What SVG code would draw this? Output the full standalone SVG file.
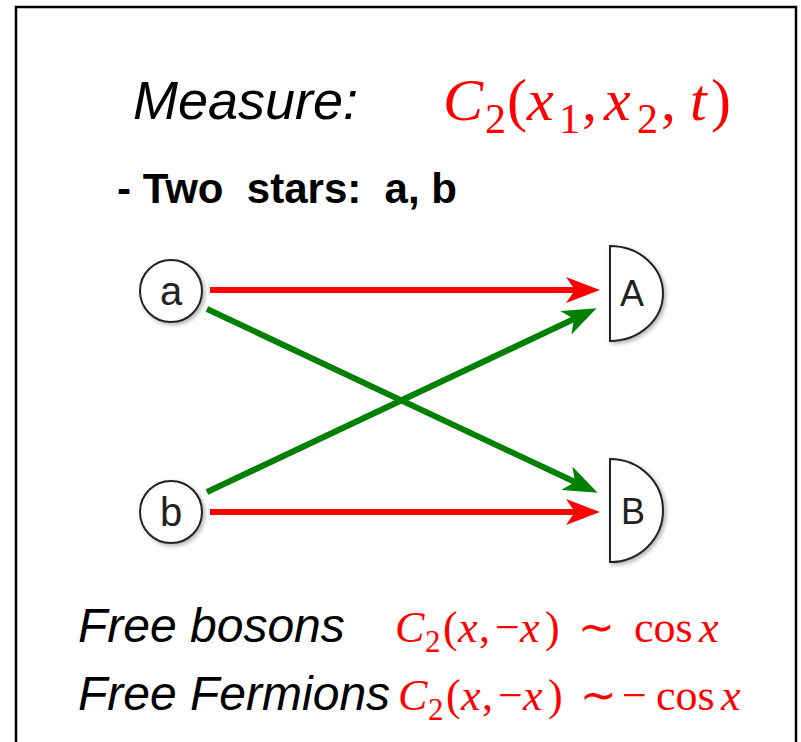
<svg xmlns="http://www.w3.org/2000/svg" width="801" height="742" viewBox="0 0 801 742">
<style>
.lbl{font-family:"Liberation Sans",Arial,sans-serif;fill:#000}
.it{font-style:italic}
.m{font-family:"Liberation Serif","Times New Roman",serif;fill:#ff0000}
.mi{font-style:italic}
.node{fill:#fff;stroke:#222;stroke-width:2}
.nt{font-family:"Liberation Sans",Arial,sans-serif;fill:#222;text-anchor:middle}
.red{stroke:#ff0000;stroke-width:6;fill:none}
.grn{stroke:#008000;stroke-width:6;fill:none}
</style>
<defs>
<filter id="sh" x="-20%" y="-20%" width="150%" height="150%">
<feDropShadow dx="2" dy="2" stdDeviation="2" flood-color="#000" flood-opacity="0.3"/>
</filter>
<marker id="ar" viewBox="0 0 34 26" refX="9" refY="13" markerWidth="34" markerHeight="26" markerUnits="userSpaceOnUse" orient="auto">
<path d="M0,0 L34,13 L0,26 L9,13 z" fill="#ff0000"/>
</marker>
<marker id="ag" viewBox="0 0 34 26" refX="9" refY="13" markerWidth="34" markerHeight="26" markerUnits="userSpaceOnUse" orient="auto">
<path d="M0,0 L34,13 L0,26 L9,13 z" fill="#008000"/>
</marker>
</defs>
<rect x="0" y="0" width="801" height="742" fill="#fff"/>
<path d="M16,760 L16,7 L796,7 L796,760" fill="none" stroke="#000" stroke-width="2.5"/>

<g id="title">
<text class="lbl it" x="133" y="119" font-size="54">Measure:</text>
<text class="m" font-size="60"><tspan class="mi" x="443" y="120">C</tspan><tspan x="485" y="133" font-size="42">2</tspan><tspan x="507" y="120">(</tspan><tspan class="mi" x="527" y="120">x</tspan><tspan x="559" y="133" font-size="42">1</tspan><tspan x="582" y="120">,</tspan><tspan class="mi" x="604" y="120">x</tspan><tspan x="637" y="133" font-size="42">2</tspan><tspan x="661" y="120">,</tspan><tspan class="mi" x="690" y="120">t</tspan><tspan x="711" y="120">)</tspan></text>
</g>
<g id="subtitle">
<text class="lbl" x="117" y="203" font-size="42" font-weight="bold" xml:space="preserve">- Two  stars:  a, b</text>
</g>

<g id="connectors">
<line class="red" x1="210" y1="290" x2="575" y2="290" marker-end="url(#ar)"/>
<line class="red" x1="210" y1="512" x2="575" y2="512" marker-end="url(#ar)"/>
<line class="grn" x1="207" y1="309" x2="575" y2="482" marker-end="url(#ag)"/>
<line class="grn" x1="207" y1="492" x2="574" y2="319" marker-end="url(#ag)"/>
</g>

<g id="node-a">
<circle class="node" cx="171" cy="291" r="31" filter="url(#sh)"/>
<text class="nt" x="171" y="305" font-size="40">a</text>
</g>
<g id="node-b">
<circle class="node" cx="171" cy="512" r="31" filter="url(#sh)"/>
<text class="nt" x="171" y="526" font-size="40">b</text>
</g>
<g id="node-A">
<path class="node" d="M610,246 L610,341 A53,47.5 0 0 0 610,246 Z" filter="url(#sh)"/>
<text class="nt" x="632" y="306" font-size="36">A</text>
</g>
<g id="node-B">
<path class="node" d="M610,459 L610,562 A53,51.5 0 0 0 610,459 Z" filter="url(#sh)"/>
<text class="nt" x="633" y="524" font-size="36">B</text>
</g>

<g id="bottom">
<text class="lbl it" x="78" y="642" font-size="48">Free bosons</text>
<text class="m" font-size="44"><tspan class="mi" x="395" y="642">C</tspan><tspan x="425" y="652" font-size="31">2</tspan><tspan x="443" y="642">(</tspan><tspan class="mi" x="458" y="642">x</tspan><tspan x="479" y="642">,</tspan><tspan x="495" y="642">−</tspan><tspan class="mi" x="520" y="642">x</tspan><tspan x="545" y="642">)</tspan><tspan x="578" y="642">∼</tspan><tspan x="634" y="642">cos</tspan><tspan class="mi" x="699" y="642">x</tspan></text>
<text class="lbl it" x="78" y="710" font-size="48">Free Fermions</text>
<text class="m" font-size="44"><tspan class="mi" x="398" y="710">C</tspan><tspan x="428" y="720" font-size="31">2</tspan><tspan x="446" y="710">(</tspan><tspan class="mi" x="461" y="710">x</tspan><tspan x="482" y="710">,</tspan><tspan x="498" y="710">−</tspan><tspan class="mi" x="523" y="710">x</tspan><tspan x="548" y="710">)</tspan><tspan x="580" y="710">∼</tspan><tspan x="622" y="710">−</tspan><tspan x="656" y="710">cos</tspan><tspan class="mi" x="721" y="710">x</tspan></text>
</g>
</svg>
